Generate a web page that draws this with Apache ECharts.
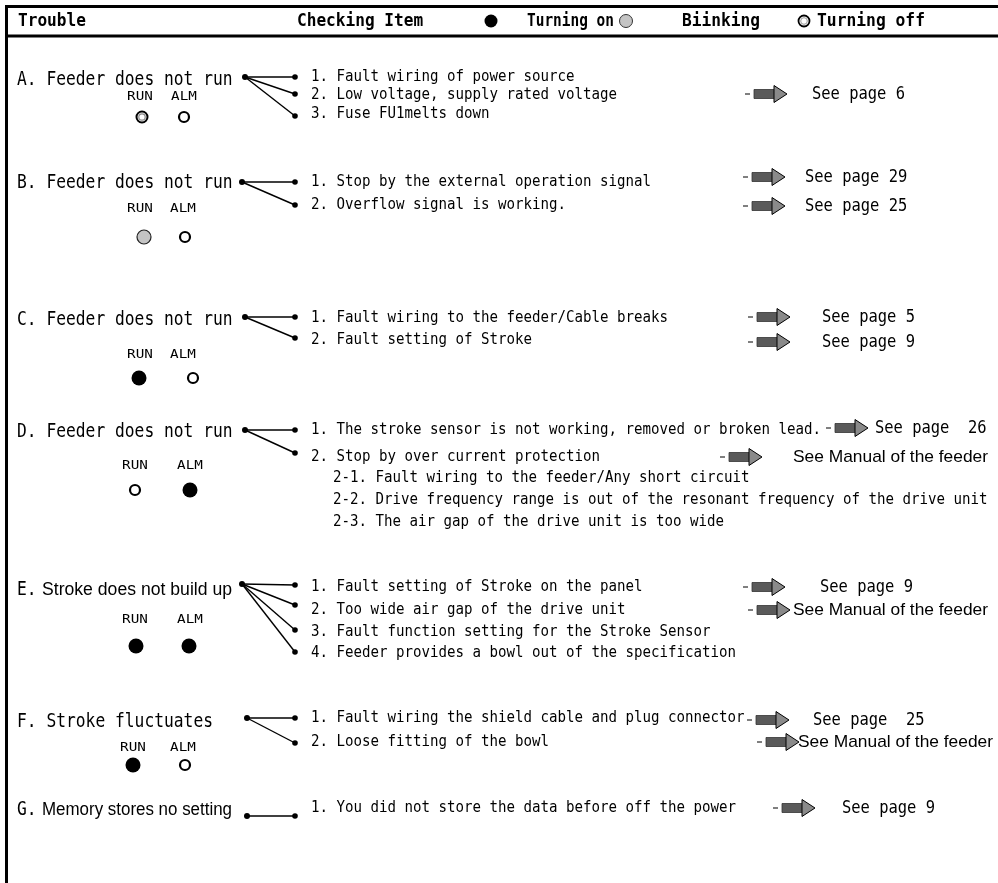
<!DOCTYPE html>
<html><head><meta charset="utf-8">
<script src="https://cdn.jsdelivr.net/npm/echarts@6/dist/echarts.min.js"></script>
<style>html,body{margin:0;padding:0;background:#fff}#c{width:998px;height:883px}</style>
</head><body><div id="c"></div>
<script>
// ---------------- data ----------------
const headerLabels = ['Trouble', 'Checking Item'];
const legendLabels = ['Turning on', 'Biinking', 'Turning off'];
const legendStates = ['on', 'blink', 'off'];
const rowCodes = ['A.', 'B.', 'C.', 'D.', 'E.', 'F.', 'G.'];
const rowTitles = ['Feeder does not run', 'Feeder does not run', 'Feeder does not run', 'Feeder does not run',
  'Stroke does not build up', 'Stroke fluctuates', 'Memory stores no setting'];
const ledNames = ['RUN', 'ALM'];
const runStates = ['off2', 'blink', 'on', 'off', 'on', 'on', null];
const almStates = ['off', 'off', 'off', 'on', 'on', 'off', null];
const checkItems = [
  ['1. Fault wiring of power source', '2. Low voltage, supply rated voltage', '3. Fuse FU1melts down'],
  ['1. Stop by the external operation signal', '2. Overflow signal is working.'],
  ['1. Fault wiring to the feeder/Cable breaks', '2. Fault setting of Stroke'],
  ['1. The stroke sensor is not working, removed or broken lead.', '2. Stop by over current protection'],
  ['1. Fault setting of Stroke on the panel', '2. Too wide air gap of the drive unit',
   '3. Fault function setting for the Stroke Sensor', '4. Feeder provides a bowl out of the specification'],
  ['1. Fault wiring the shield cable and plug connector', '2. Loose fitting of the bowl'],
  ['1. You did not store the data before off the power']
];
const subItems = ['2-1. Fault wiring to the feeder/Any short circuit',
  '2-2. Drive frequency range is out of the resonant frequency of the drive unit',
  '2-3. The air gap of the drive unit is too wide'];
const subItemRow = 3;
const references = [
  [null, 'See page 6', null],
  ['See page 29', 'See page 25'],
  ['See page 5', 'See page 9'],
  ['See page  26', 'See Manual of the feeder'],
  ['See page 9', 'See Manual of the feeder', null, null],
  ['See page  25', 'See Manual of the feeder'],
  ['See page 9']
];
const propTitleRows = [4, 6];

// ---------------- layout (diagram coordinates) ----------------
const LAY = {
  titleX: 17, titleY: [80, 183, 320, 432, 590, 722, 810],
  hubX: [245, 242, 245, 245, 242, 247, 247],
  hubY: [77, 182, 317, 430, 584, 718, 816],
  dotX: 295, itemX: 311, subX: 333,
  itemY: [[77, 95, 114], [182, 205], [318, 340], [430, 457], [587, 610, 632, 653], [718, 742], [808]],
  dotY: [[77, 94, 116], [182, 205], [317, 338], [430, 453], [585, 605, 630, 652], [718, 743], [816]],
  subY: [478, 500, 522],
  ledLabelY: [97, 209, 355, 466, 620, 748],
  runLabelX: [140, 140, 140, 135, 135, 133], almLabelX: [184, 183, 183, 190, 190, 183],
  ledY: [117, 237, 378, 490, 646, 765],
  runX: [142, 144, 139, 135, 136, 133], almX: [184, 185, 193, 190, 189, 185],
  arrowY: [[0, 94, 0], [177, 206], [317, 342], [428, 457], [587, 610], [720, 742], [808]],
  arrowX: [[0, 745, 0], [743, 743], [748, 748], [826, 720], [743, 748], [747, 757], [773]],
  refX: [[0, 812, 0], [805, 805], [822, 822], [875, 793], [820, 793], [813, 798], [842]],
  manualW: 195,
  propX: 42, propEnd: 232,
  legendSymX: [491, 626, 804], legendLabX: [527, 682, 817], legendLabW: [87, 78, 108]
};

const MONO = 'DejaVu Sans Mono';
const ST = {
  head: { family: MONO, size: 18, weight: 'bold', charW: 9.7 },
  title: { family: MONO, size: 20, charW: 9.8 },
  item: { family: MONO, size: 16, charW: 8.5 },
  ref: { family: MONO, size: 18, charW: 9.3 },
  led: { family: MONO, size: 13, charW: 8.6 },
  prop: { family: 'Liberation Sans', size: 18 },
  manual: { family: 'Liberation Sans', size: 17 }
};

const cv = document.createElement('canvas').getContext('2d');
function measure(str, st) {
  cv.font = (st.weight || 'normal') + ' ' + st.size + 'px "' + st.family + '"';
  return cv.measureText(str).width;
}
function txt(api, x, y, str, st, width, align) {
  const p = api.coord([x, y]);
  const w = measure(str, st);
  const target = width || (st.charW ? st.charW * str.length : 0);
  const s = target ? target / w : 1;
  const a = align || 'left';
  return { type: 'text', x: p[0], y: p[1], scaleX: s,
    style: { text: str, fontSize: st.size, fontFamily: st.family, fontWeight: st.weight || 'normal',
      fill: '#000', align: a, verticalAlign: 'middle', textAlign: a, textVerticalAlign: 'middle' } };
}
function line(api, x1, y1, x2, y2, lw) {
  const a = api.coord([x1, y1]), b = api.coord([x2, y2]);
  return { type: 'line', shape: { x1: a[0], y1: a[1], x2: b[0], y2: b[1] }, style: { stroke: '#000', lineWidth: lw || 1.4 } };
}
function dot(api, x, y, r) {
  const p = api.coord([x, y]);
  return { type: 'circle', shape: { cx: p[0], cy: p[1], r: r || 2.8 }, style: { fill: '#000' } };
}
function led(api, x, y, state) {
  const p = api.coord([x, y]);
  const g = { type: 'group', children: [] };
  if (state === 'on') g.children.push({ type: 'circle', shape: { cx: p[0], cy: p[1], r: 7.5 }, style: { fill: '#000' } });
  else if (state === 'blink') g.children.push({ type: 'circle', shape: { cx: p[0], cy: p[1], r: 7 }, style: { fill: '#c4c4c4', stroke: '#222', lineWidth: 1.2 } });
  else if (state === 'off') g.children.push({ type: 'circle', shape: { cx: p[0], cy: p[1], r: 5 }, style: { fill: '#fff', stroke: '#000', lineWidth: 2.2 } });
  else if (state === 'off2') {
    g.children.push({ type: 'circle', shape: { cx: p[0], cy: p[1], r: 5.5 }, style: { fill: '#fff', stroke: '#000', lineWidth: 2 } });
    g.children.push({ type: 'circle', shape: { cx: p[0], cy: p[1], r: 3.2 }, style: { fill: '#fff', stroke: '#888', lineWidth: 1.2 } });
  }
  return g;
}
function arrow(api, x0, y) {
  const p = api.coord([x0, y]);
  const X = p[0], Y = p[1];
  return { type: 'group', children: [
    { type: 'line', shape: { x1: X, y1: Y, x2: X + 5, y2: Y }, style: { stroke: '#000', lineWidth: 1 } },
    { type: 'rect', shape: { x: X + 9, y: Y - 4.5, width: 21, height: 9 }, style: { fill: '#5a5a5a', stroke: '#333', lineWidth: 0.8 } },
    { type: 'polygon', shape: { points: [[X + 29, Y - 8.5], [X + 42, Y], [X + 29, Y + 8.5]] }, style: { fill: '#8a8a8a', stroke: '#000', lineWidth: 1 } }
  ] };
}

// ---------------- chart ----------------
const chart = echarts.init(document.getElementById('c'), null, { renderer: 'canvas' });

function renderFrame(params, api) {
  const ch = [];
  ch.push(line(api, 5, 6.5, 998, 6.5, 3));
  ch.push(line(api, 5, 36, 998, 36, 3));
  ch.push(line(api, 6.5, 5, 6.5, 883, 3));
  ch.push(txt(api, 18, 21, headerLabels[0], ST.head));
  ch.push(txt(api, 297, 21, headerLabels[1], ST.head));
  legendLabels.forEach((lab, i) => {
    const s = legendStates[i];
    const p = api.coord([LAY.legendSymX[i], 21]);
    if (s === 'on') ch.push({ type: 'circle', shape: { cx: p[0], cy: p[1], r: 6.5 }, style: { fill: '#000' } });
    else if (s === 'blink') ch.push({ type: 'circle', shape: { cx: p[0], cy: p[1], r: 6.5 }, style: { fill: '#c4c4c4', stroke: '#333', lineWidth: 1 } });
    else {
      ch.push({ type: 'circle', shape: { cx: p[0], cy: p[1], r: 5.5 }, style: { fill: '#fff', stroke: '#000', lineWidth: 1.8 } });
      ch.push({ type: 'circle', shape: { cx: p[0], cy: p[1], r: 3.3 }, style: { fill: '#fff', stroke: '#999', lineWidth: 1 } });
    }
    ch.push(txt(api, LAY.legendLabX[i], 21, lab, ST.head, LAY.legendLabW[i]));
  });
  return { type: 'group', children: ch };
}

function renderRow(params, api) {
  const i = api.value(0);
  const ch = [];
  if (propTitleRows.indexOf(i) >= 0) {
    ch.push(txt(api, LAY.titleX, LAY.titleY[i], rowCodes[i], ST.title));
    ch.push(txt(api, LAY.propX, LAY.titleY[i], rowTitles[i], ST.prop, LAY.propEnd - LAY.propX));
  } else {
    ch.push(txt(api, LAY.titleX, LAY.titleY[i], rowCodes[i] + ' ' + rowTitles[i], ST.title));
  }
  checkItems[i].forEach((it, k) => {
    ch.push(line(api, LAY.hubX[i], LAY.hubY[i], LAY.dotX, LAY.dotY[i][k]));
    ch.push(dot(api, LAY.dotX, LAY.dotY[i][k]));
    ch.push(txt(api, LAY.itemX, LAY.itemY[i][k], it, ST.item));
    const ref = references[i][k];
    if (ref) {
      ch.push(arrow(api, LAY.arrowX[i][k], LAY.arrowY[i][k]));
      if (ref.indexOf('Manual') >= 0) ch.push(txt(api, LAY.refX[i][k], LAY.arrowY[i][k], ref, ST.manual, LAY.manualW));
      else ch.push(txt(api, LAY.refX[i][k], LAY.arrowY[i][k], ref, ST.ref));
    }
  });
  ch.push(dot(api, LAY.hubX[i], LAY.hubY[i], 3));
  if (i === subItemRow) {
    subItems.forEach((s, k) => ch.push(txt(api, LAY.subX, LAY.subY[k], s, ST.item)));
  }
  if (runStates[i]) {
    ch.push(txt(api, LAY.runLabelX[i], LAY.ledLabelY[i], ledNames[0], ST.led, 0, 'center'));
    ch.push(txt(api, LAY.almLabelX[i], LAY.ledLabelY[i], ledNames[1], ST.led, 0, 'center'));
    ch.push(led(api, LAY.runX[i], LAY.ledY[i], runStates[i]));
    ch.push(led(api, LAY.almX[i], LAY.ledY[i], almStates[i]));
  }
  return { type: 'group', children: ch };
}

chart.setOption({
  animation: false,
  backgroundColor: '#fff',
  grid: { left: 0, right: 0, top: 0, bottom: 0 },
  xAxis: { type: 'value', min: 0, max: 998, show: false },
  yAxis: { type: 'value', min: 0, max: 883, inverse: true, show: false },
  series: [
    { type: 'custom', name: 'frame', clip: false, data: [[0]], renderItem: renderFrame, silent: true },
    { type: 'custom', name: 'rows', clip: false, data: rowTitles.map((t, i) => [i]), renderItem: renderRow, silent: true }
  ]
});
</script></body></html>
